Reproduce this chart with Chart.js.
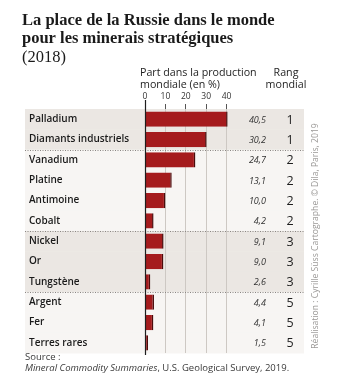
<!DOCTYPE html>
<html lang="fr">
<head>
<meta charset="utf-8">
<title>La place de la Russie dans le monde pour les minerais stratégiques</title>
<script src="https://cdn.jsdelivr.net/npm/chart.js@4/dist/chart.umd.min.js"></script>
<style>
  html, body { margin: 0; padding: 0; background: #fff; }
  canvas { display: block; }
</style>
</head>
<body>
<canvas id="russie" width="337" height="385"></canvas>
<script>
/* Données : part de la Russie dans la production mondiale (%) et rang */
const minerais = ['Palladium', 'Diamants industriels', 'Vanadium', 'Platine', 'Antimoine', 'Cobalt',
                  'Nickel', 'Or', 'Tungstène', 'Argent', 'Fer', 'Terres rares'];
const parts = [40.5, 30.2, 24.7, 13.1, 10.0, 4.2, 9.1, 9.0, 2.6, 4.4, 4.1, 1.5];
const rangs = [1, 1, 2, 2, 2, 2, 3, 3, 3, 5, 5, 5];
const graduations = [0, 10, 20, 30, 40];

const SANS = "'Open Sans', 'Noto Sans', sans-serif";
const SERIF = "'Liberation Serif', 'DejaVu Serif', serif";
const ROUGE = '#a51b1d';
const FOND_FONCE = '#ebe7e3';
const FOND_CLAIR = '#f7f5f3';
const PANNEAU = { left: 25, right: 304 };

/* fonds alternés par rang, séparateurs, textes et colonnes de droite */
const habillage = {
    id: 'habillage',
    beforeDraw(chart) {
        const ctx = chart.ctx;
        const y = chart.scales.y;
        const demi = (y.getPixelForValue(1) - y.getPixelForValue(0)) / 2;
        ctx.save();
        let groupe = 0;
        rangs.forEach((r, i) => {
            if (i > 0 && r !== rangs[i - 1]) groupe++;
            const cy = y.getPixelForValue(i);
            ctx.fillStyle = groupe % 2 === 0 ? FOND_FONCE : FOND_CLAIR;
            ctx.fillRect(PANNEAU.left, cy - demi, PANNEAU.right - PANNEAU.left, demi * 2 + 0.5);
        });
        ctx.restore();
    },
    afterDatasetsDraw(chart) {
        const ctx = chart.ctx;
        const x = chart.scales.x;
        const y = chart.scales.y;
        const area = chart.chartArea;
        const demi = (y.getPixelForValue(1) - y.getPixelForValue(0)) / 2;
        ctx.save();

        // séparateurs pointillés entre rangs
        ctx.strokeStyle = '#8a8683';
        ctx.lineWidth = 1;
        ctx.setLineDash([1, 1.5]);
        rangs.forEach((r, i) => {
            if (i > 0 && r !== rangs[i - 1]) {
                const sy = Math.round(y.getPixelForValue(i) - demi) + 0.5;
                ctx.beginPath();
                ctx.moveTo(PANNEAU.left, sy);
                ctx.lineTo(PANNEAU.right, sy);
                ctx.stroke();
            }
        });
        ctx.setLineDash([]);

        // axe zéro
        const x0 = Math.round(x.getPixelForValue(0)) + 0.5;
        ctx.strokeStyle = '#1e1e1e';
        ctx.lineWidth = 1.2;
        ctx.beginPath();
        ctx.moveTo(x0, area.top - 9);
        ctx.lineTo(x0, area.bottom + 2);
        ctx.stroke();

        // valeurs et rangs
        ctx.textBaseline = 'middle';
        parts.forEach((v, i) => {
            const cy = y.getPixelForValue(i) + 1;
            ctx.fillStyle = '#333';
            ctx.font = 'italic 9px ' + SANS;
            ctx.textAlign = 'right';
            ctx.fillText(v.toFixed(1).replace('.', ','), 266, cy);
            ctx.fillStyle = '#1e1e1e';
            ctx.font = '12.5px ' + SANS;
            ctx.textAlign = 'center';
            ctx.fillText(String(rangs[i]), 290, cy);
        });
        ctx.restore();
    },
    afterDraw(chart) {
        const ctx = chart.ctx;
        ctx.save();
        ctx.textBaseline = 'alphabetic';
        ctx.textAlign = 'left';

        // titre
        ctx.fillStyle = '#1a1a1a';
        ctx.font = 'bold 16.5px ' + SERIF;
        ctx.fillText('La place de la Russie dans le monde', 22, 25);
        ctx.fillText('pour les minerais stratégiques', 22, 43);
        ctx.font = '16.5px ' + SERIF;
        ctx.fillText('(2018)', 22, 62);

        // en-têtes de colonnes
        ctx.fillStyle = '#1e1e1e';
        ctx.font = '10.7px ' + SANS;
        ctx.fillText('Part dans la production', 140, 76);
        ctx.fillText('mondiale (en %)', 140, 88);
        ctx.textAlign = 'center';
        ctx.fillText('Rang', 286, 76);
        ctx.fillText('mondial', 286, 88);

        // crédit vertical
        ctx.save();
        ctx.translate(316, 236);
        ctx.rotate(-Math.PI / 2);
        ctx.fillStyle = '#9a9896';
        ctx.font = '8.6px ' + SANS;
        ctx.textBaseline = 'middle';
        ctx.fillText('Réalisation : Cyrille Süss Cartographe. © Dila, Paris, 2019', 0, 0);
        ctx.restore();

        // source
        ctx.textAlign = 'left';
        ctx.fillStyle = '#3a3a3a';
        ctx.font = '9.5px ' + SANS;
        ctx.fillText('Source :', 25, 360);
        ctx.font = 'italic 9.5px ' + SANS;
        const titreSource = 'Mineral Commodity Summaries';
        ctx.fillText(titreSource, 25, 371);
        const w = ctx.measureText(titreSource).width;
        ctx.font = '9.5px ' + SANS;
        ctx.fillText(', U.S. Geological Survey, 2019.', 25 + w, 371);
        ctx.restore();
    }
};

new Chart(document.getElementById('russie'), {
    type: 'bar',
    data: {
        labels: minerais,
        datasets: [{
            data: parts,
            backgroundColor: ROUGE,
            borderColor: '#4a0b0b',
            borderWidth: { top: 0, bottom: 0, left: 0, right: 1.5 },
            borderSkipped: 'start',
            barPercentage: 0.75,
            categoryPercentage: 1
        }]
    },
    options: {
        indexAxis: 'y',
        responsive: false,
        animation: false,
        events: [],
        layout: { padding: { top: 90, bottom: 32, left: 29, right: 90 } },
        scales: {
            x: {
                position: 'top',
                min: 0,
                max: 50,
                afterFit(scale) { scale.height = 19; },
                afterBuildTicks(scale) {
                    scale.ticks = graduations.concat([50]).map(v => ({ value: v }));
                },
                ticks: {
                    padding: 2,
                    color: '#333',
                    font: { family: SANS, size: 8.5 },
                    callback: v => (graduations.includes(v) ? String(v) : '')
                },
                grid: {
                    drawOnChartArea: true,
                    tickLength: 5,
                    color: c => (c.tick && (c.tick.value === 0 || c.tick.value === 50) ? 'rgba(0,0,0,0)' : '#cdc8c3'),
                    tickColor: c => (c.tick && c.tick.value === 50 ? 'rgba(0,0,0,0)' : '#555')
                },
                border: { display: false }
            },
            y: {
                afterFit(scale) { scale.width = 116; },
                ticks: {
                    crossAlign: 'far',
                    color: '#1a1a1a',
                    font: { family: SANS, size: 10, weight: '600' }
                },
                grid: { display: false },
                border: { display: false }
            }
        },
        plugins: {
            legend: { display: false },
            tooltip: { enabled: false }
        }
    },
    plugins: [habillage]
});
</script>
</body>
</html>
